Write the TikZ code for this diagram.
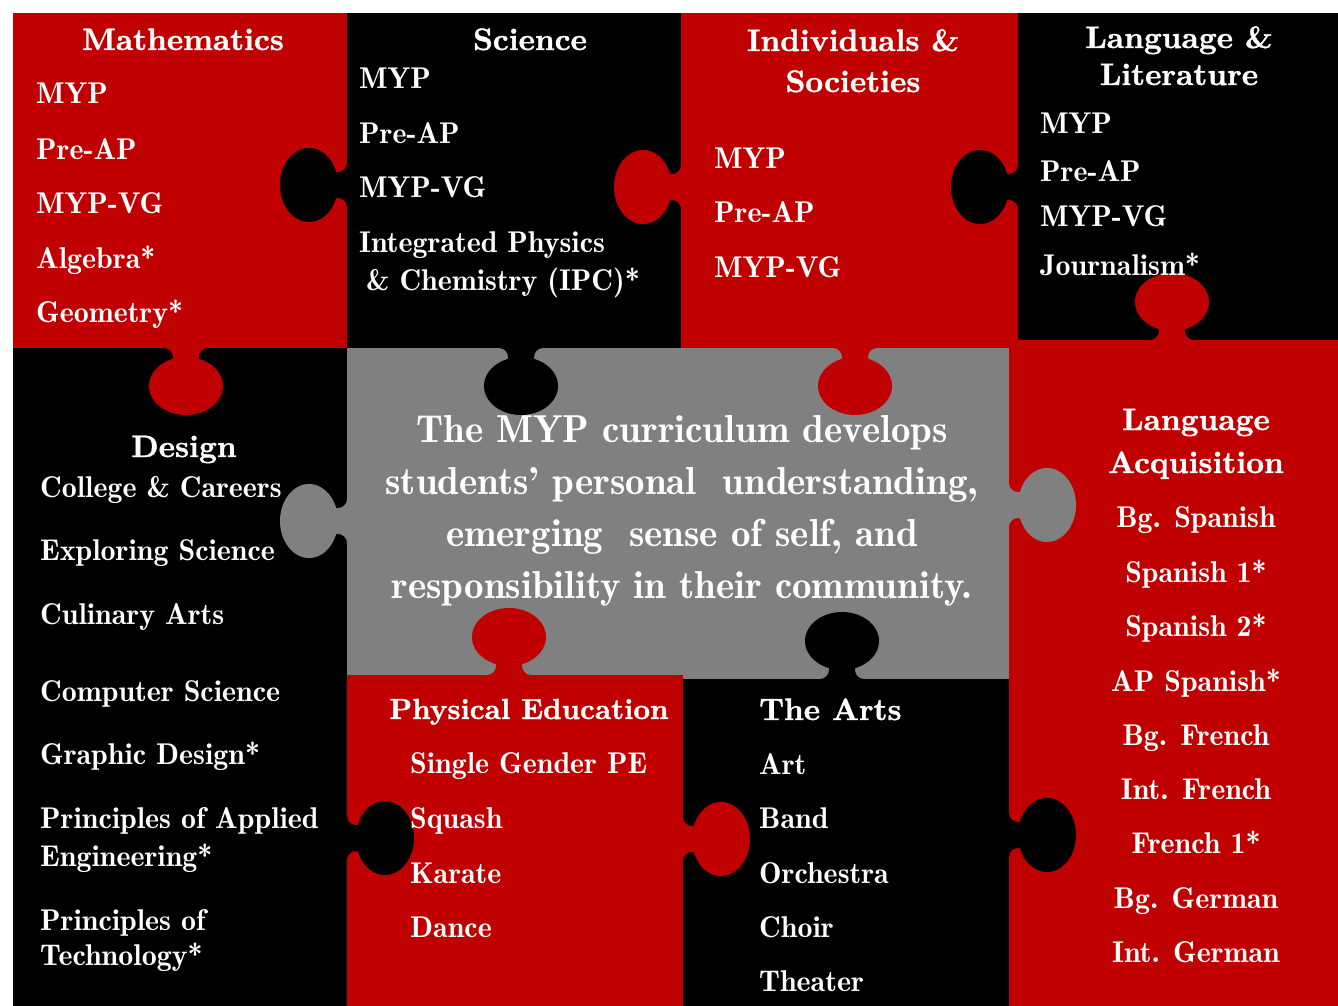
\documentclass[tikz,border=0pt]{standalone}
\usepackage{fontspec}
\newfontfamily\pzdemi{lmromandemi10-regular}[Extension=.otf]
\newfontfamily\pzbold{lmroman10-bold}[Extension=.otf, FakeBold=1.2]
\definecolor{pzred}{HTML}{C00000}
\definecolor{pzgrey}{HTML}{808080}
\newcommand\puzzleknob[4]{%
  \begin{scope}[shift={(#2,#3)},#4]
    \fill[#1] (-2,-22) -- (0,-22) .. controls (0,-17) and (4,-13) .. (9,-13) -- (14,-13) -- (14,13) -- (9,13) .. controls (4,13) and (0,17) .. (0,22) -- (-2,22) -- cycle;
    \fill[#1] (9,0) .. controls (9,-20.4) and (22,-37) .. (38,-37) .. controls (54,-37) and (67,-20.4) .. (67,0) .. controls (67,20.4) and (54,37) .. (38,37) .. controls (22,37) and (9,20.4) .. (9,0) -- cycle;
  \end{scope}}
\begin{document}
\begin{tikzpicture}[x=1pt,y=-1pt,
  kleft/.style={x={(-1pt,0pt)},y={(0pt,1pt)}},
  kright/.style={x={(1pt,0pt)},y={(0pt,1pt)}},
  kup/.style={x={(0pt,1pt)},y={(1pt,0pt)}},
  kdown/.style={x={(0pt,-1pt)},y={(1pt,0pt)}},
  body/.style={text=white, inner sep=0pt, anchor=base west, font=\pzdemi\fontsize{30}{30}\selectfont},
  bodyc/.style={body, anchor=base},
  head/.style={text=white, inner sep=0pt, anchor=base, font=\pzbold\fontsize{31}{31}\selectfont},
  centre/.style={text=white, inner sep=0pt, anchor=base, font=\pzdemi\fontsize{39}{39}\selectfont}]
\useasboundingbox (0,0) rectangle (1338,1006);
\fill[white] (0,0) rectangle (1338,1006);
% blocks
\fill[pzred]  (13,13)   rectangle (347,348);
\fill[black]  (347,13)  rectangle (681,348);
\fill[black]  (13,348)  rectangle (347,1006);
\fill[pzgrey] (347,348) rectangle (1009,680);
\fill[pzred]  (681,13)  rectangle (1018,348);
\fill[black]  (1018,13) rectangle (1338,340);
\fill[pzred]  (1009,340) rectangle (1338,1006);
\fill[pzred]  (347,675) rectangle (683,1006);
\fill[black]  (683,679) rectangle (1009,1006);
% knobs
\puzzleknob{black}{347}{185}{kleft}
\puzzleknob{pzred}{681}{187}{kleft}
\puzzleknob{black}{1018}{187}{kleft}
\puzzleknob{pzred}{1172}{340}{kup}
\puzzleknob{pzred}{186}{348}{kdown}
\puzzleknob{black}{521}{348}{kdown}
\puzzleknob{pzred}{855}{348}{kdown}
\puzzleknob{pzgrey}{347}{521}{kleft}
\puzzleknob{pzgrey}{1009}{505}{kright}
\puzzleknob{pzred}{509}{675}{kup}
\puzzleknob{black}{842}{679}{kup}
\puzzleknob{black}{347}{838}{kright}
\puzzleknob{pzred}{683}{839}{kright}
\puzzleknob{black}{1009}{835}{kright}
% Mathematics
\node[head] (mathH) at (183,50) {Mathematics};
\node[body] (math1) at (36,104) {MYP};
\node[body] (math2) at (36,159) {Pre-AP};
\node[body] (math3) at (36,213) {MYP-VG};
\node[body] (math4) at (36,268) {Algebra*};
\node[body] (math5) at (36,322) {Geometry*};
% Science
\node[head] (sciH) at (530,50) {Science};
\node[body] (sci1) at (359,89) {MYP};
\node[body] (sci2) at (359,143) {Pre-AP};
\node[body] (sci3) at (359,197) {MYP-VG};
\node[body] (sci4) at (359,252) {Integrated Physics};
\node[body] (sci5) at (366,290) {\& Chemistry (IPC)*};
% Individuals & Societies
\node[head] (indH1) at (853,51) {Individuals \&};
\node[head] (indH2) at (853,92) {Societies};
\node[body] (ind1) at (714,168) {MYP};
\node[body] (ind2) at (714,222) {Pre-AP};
\node[body] (ind3) at (714,277) {MYP-VG};
% Language & Literature
\node[head] (litH1) at (1179,48) {Language \&};
\node[head] (litH2) at (1179,85) {Literature};
\node[body] (lit1) at (1040,133) {MYP};
\node[body] (lit2) at (1040,181) {Pre-AP};
\node[body] (lit3) at (1040,226) {MYP-VG};
\node[body] (lit4) at (1040,275) {Journalism*};
% Design
\node[head] (desH) at (184,457) {Design};
\node[body] (des1) at (40,497) {College \& Careers};
\node[body] (des2) at (40,560) {Exploring Science};
\node[body] (des3) at (40,624) {Culinary Arts};
\node[body] (des4) at (40,701) {Computer Science};
\node[body] (des5) at (40,764) {Graphic Design*};
\node[body] (des6) at (40,828) {Principles of Applied};
\node[body] (des7) at (40,866) {Engineering*};
\node[body] (des8) at (40,930) {Principles of};
\node[body] (des9) at (40,965) {Technology*};
% centre
\node[centre] (c1) at (682,442) {The MYP curriculum develops};
\node[centre] (c2) at (682,494) {students’ personal\ \ understanding,};
\node[centre] (c3) at (682,546) {emerging\ \ sense of self, and};
\node[centre] (c4) at (682,598) {responsibility in their community.};
% Language Acquisition
\node[head] (acqH1) at (1196,430) {Language};
\node[head] (acqH2) at (1196,473) {Acquisition};
\node[bodyc] (acq1) at (1196,527) {Bg. Spanish};
\node[bodyc] (acq2) at (1196,582) {Spanish 1*};
\node[bodyc] (acq3) at (1196,636) {Spanish 2*};
\node[bodyc] (acq4) at (1196,691) {AP Spanish*};
\node[bodyc] (acq5) at (1196,745) {Bg. French};
\node[bodyc] (acq6) at (1196,799) {Int. French};
\node[bodyc] (acq7) at (1196,853) {French 1*};
\node[bodyc] (acq8) at (1196,908) {Bg. German};
\node[bodyc] (acq9) at (1196,962) {Int. German};
% Physical Education
\node[head, font=\pzbold\fontsize{29}{29}\selectfont] (peH) at (529,719) {Physical Education};
\node[body] (pe1) at (410,773) {Single Gender PE};
\node[body] (pe2) at (410,828) {Squash};
\node[body] (pe3) at (410,883) {Karate};
\node[body] (pe4) at (410,937) {Dance};
% The Arts
\node[head, anchor=base west] (artH) at (759,720) {The Arts};
\node[body] (art1) at (759,774) {Art};
\node[body] (art2) at (759,828) {Band};
\node[body] (art3) at (759,883) {Orchestra};
\node[body] (art4) at (759,937) {Choir};
\node[body] (art5) at (759,991) {Theater};
\end{tikzpicture}
\end{document}
